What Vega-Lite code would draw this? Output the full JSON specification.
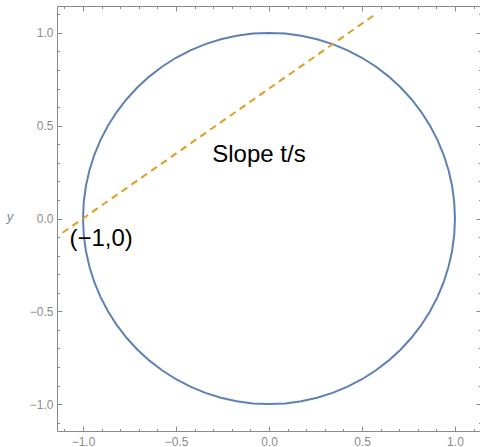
{
  "$schema": "https://vega.github.io/schema/vega-lite/v6.json",
  "width": 424,
  "height": 425,
  "autosize": {"type": "none"},
  "padding": {"left": 57, "top": 6, "right": 0, "bottom": 16},
  "background": "white",
  "config": {
    "view": {"stroke": "#8a8a8a", "strokeWidth": 1},
    "axis": {
      "grid": false,
      "domain": false,
      "tickColor": "#8a8a8a",
      "tickWidth": 1,
      "labelColor": "#8c8c8c",
      "labelFont": "Liberation Sans",
      "labelFontSize": 12,
      "tickSize": {"condition": {"test": "abs(datum.value*2 - round(datum.value*2)) < 0.001", "value": -5}, "value": -2.5},
      "labelExpr": "abs(datum.value*2 - round(datum.value*2)) < 0.001 ? format(datum.value, '.1f') : ''",
      "labelFlush": false,
      "labelOverlap": false
    }
  },
  "datasets": {
    "circle": [
      {"a": 0, "x": 1, "y": 0}, {"a": 5, "x": 0.9962, "y": 0.0872}, {"a": 10, "x": 0.9848, "y": 0.1736}, {"a": 15, "x": 0.9659, "y": 0.2588},
      {"a": 20, "x": 0.9397, "y": 0.342}, {"a": 25, "x": 0.9063, "y": 0.4226}, {"a": 30, "x": 0.866, "y": 0.5}, {"a": 35, "x": 0.8192, "y": 0.5736},
      {"a": 40, "x": 0.766, "y": 0.6428}, {"a": 45, "x": 0.7071, "y": 0.7071}, {"a": 50, "x": 0.6428, "y": 0.766}, {"a": 55, "x": 0.5736, "y": 0.8192},
      {"a": 60, "x": 0.5, "y": 0.866}, {"a": 65, "x": 0.4226, "y": 0.9063}, {"a": 70, "x": 0.342, "y": 0.9397}, {"a": 75, "x": 0.2588, "y": 0.9659},
      {"a": 80, "x": 0.1736, "y": 0.9848}, {"a": 85, "x": 0.0872, "y": 0.9962}, {"a": 90, "x": 0, "y": 1},
      {"a": 95, "x": -0.0872, "y": 0.9962}, {"a": 100, "x": -0.1736, "y": 0.9848}, {"a": 105, "x": -0.2588, "y": 0.9659}, {"a": 110, "x": -0.342, "y": 0.9397},
      {"a": 115, "x": -0.4226, "y": 0.9063}, {"a": 120, "x": -0.5, "y": 0.866}, {"a": 125, "x": -0.5736, "y": 0.8192}, {"a": 130, "x": -0.6428, "y": 0.766},
      {"a": 135, "x": -0.7071, "y": 0.7071}, {"a": 140, "x": -0.766, "y": 0.6428}, {"a": 145, "x": -0.8192, "y": 0.5736}, {"a": 150, "x": -0.866, "y": 0.5},
      {"a": 155, "x": -0.9063, "y": 0.4226}, {"a": 160, "x": -0.9397, "y": 0.342}, {"a": 165, "x": -0.9659, "y": 0.2588}, {"a": 170, "x": -0.9848, "y": 0.1736},
      {"a": 175, "x": -0.9962, "y": 0.0872}, {"a": 180, "x": -1, "y": 0},
      {"a": 185, "x": -0.9962, "y": -0.0872}, {"a": 190, "x": -0.9848, "y": -0.1736}, {"a": 195, "x": -0.9659, "y": -0.2588}, {"a": 200, "x": -0.9397, "y": -0.342},
      {"a": 205, "x": -0.9063, "y": -0.4226}, {"a": 210, "x": -0.866, "y": -0.5}, {"a": 215, "x": -0.8192, "y": -0.5736}, {"a": 220, "x": -0.766, "y": -0.6428},
      {"a": 225, "x": -0.7071, "y": -0.7071}, {"a": 230, "x": -0.6428, "y": -0.766}, {"a": 235, "x": -0.5736, "y": -0.8192}, {"a": 240, "x": -0.5, "y": -0.866},
      {"a": 245, "x": -0.4226, "y": -0.9063}, {"a": 250, "x": -0.342, "y": -0.9397}, {"a": 255, "x": -0.2588, "y": -0.9659}, {"a": 260, "x": -0.1736, "y": -0.9848},
      {"a": 265, "x": -0.0872, "y": -0.9962}, {"a": 270, "x": 0, "y": -1},
      {"a": 275, "x": 0.0872, "y": -0.9962}, {"a": 280, "x": 0.1736, "y": -0.9848}, {"a": 285, "x": 0.2588, "y": -0.9659}, {"a": 290, "x": 0.342, "y": -0.9397},
      {"a": 295, "x": 0.4226, "y": -0.9063}, {"a": 300, "x": 0.5, "y": -0.866}, {"a": 305, "x": 0.5736, "y": -0.8192}, {"a": 310, "x": 0.6428, "y": -0.766},
      {"a": 315, "x": 0.7071, "y": -0.7071}, {"a": 320, "x": 0.766, "y": -0.6428}, {"a": 325, "x": 0.8192, "y": -0.5736}, {"a": 330, "x": 0.866, "y": -0.5},
      {"a": 335, "x": 0.9063, "y": -0.4226}, {"a": 340, "x": 0.9397, "y": -0.342}, {"a": 345, "x": 0.9659, "y": -0.2588}, {"a": 350, "x": 0.9848, "y": -0.1736},
      {"a": 355, "x": 0.9962, "y": -0.0872}, {"a": 360, "x": 1, "y": 0}
    ],
    "secant": [
      {"x": -1.11, "y": -0.077},
      {"x": 0.58, "y": 1.106}
    ],
    "labels": [
      {"x": -0.054, "y": 0.306, "text": "Slope t/s"},
      {"x": -0.903, "y": -0.147, "text": "(−1,0)"}
    ]
  },
  "layer": [
    {
      "data": {"name": "circle"},
      "mark": {"type": "line", "color": "#5E81B5", "strokeWidth": 2, "clip": true},
      "encoding": {
        "x": {"field": "x", "type": "quantitative", "scale": {"domain": [-1.14, 1.14], "nice": false, "zero": false},
              "axis": {"orient": "bottom", "title": null, "labelPadding": 10,
                       "values": [-1.1, -1, -0.9, -0.8, -0.7, -0.6, -0.5, -0.4, -0.3, -0.2, -0.1, 0, 0.1, 0.2, 0.3, 0.4, 0.5, 0.6, 0.7, 0.8, 0.9, 1, 1.1]}},
        "y": {"field": "y", "type": "quantitative", "scale": {"domain": [-1.145, 1.145], "nice": false, "zero": false},
              "axis": {"orient": "left", "labelPadding": 9, "title": "y", "titleAngle": 0, "titleFontStyle": "italic",
                       "values": [-1.1, -1, -0.9, -0.8, -0.7, -0.6, -0.5, -0.4, -0.3, -0.2, -0.1, 0, 0.1, 0.2, 0.3, 0.4, 0.5, 0.6, 0.7, 0.8, 0.9, 1, 1.1],
                       "titleFont": "Liberation Sans", "titleFontWeight": "normal", "titleFontSize": 13, "titleColor": "#7d8799",
                       "titleX": -47.5, "titleY": 210, "titleAlign": "center", "titleBaseline": "middle"}},
        "order": {"field": "a", "type": "quantitative"}
      }
    },
    {
      "data": {"name": "secant"},
      "mark": {"type": "line", "color": "#E19C24", "strokeWidth": 2, "strokeDash": [7, 5], "clip": true},
      "encoding": {
        "x": {"field": "x", "type": "quantitative", "axis": {"orient": "top", "title": null, "labels": false,
              "values": [-1.1, -1, -0.9, -0.8, -0.7, -0.6, -0.5, -0.4, -0.3, -0.2, -0.1, 0, 0.1, 0.2, 0.3, 0.4, 0.5, 0.6, 0.7, 0.8, 0.9, 1, 1.1]}},
        "y": {"field": "y", "type": "quantitative", "axis": {"orient": "right", "title": null, "labels": false,
              "values": [-1.1, -1, -0.9, -0.8, -0.7, -0.6, -0.5, -0.4, -0.3, -0.2, -0.1, 0, 0.1, 0.2, 0.3, 0.4, 0.5, 0.6, 0.7, 0.8, 0.9, 1, 1.1]}}
      }
    },
    {
      "data": {"name": "labels"},
      "mark": {"type": "text", "font": "Liberation Sans", "fontSize": 24, "color": "black", "align": "center", "baseline": "alphabetic"},
      "encoding": {
        "x": {"field": "x", "type": "quantitative", "axis": null},
        "y": {"field": "y", "type": "quantitative", "axis": null},
        "text": {"field": "text", "type": "nominal"}
      }
    }
  ],
  "resolve": {"axis": {"x": "independent", "y": "independent"}}
}
